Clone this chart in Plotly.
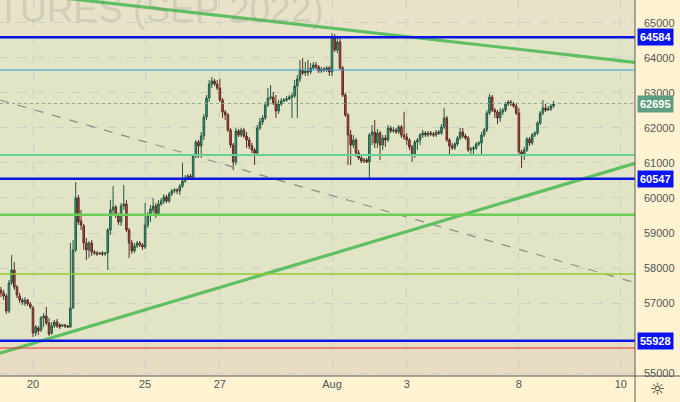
"""Si futures (Sep 2022), hourly candles with levels."""

import plotly.graph_objects as go

# hourly bars, 14 per session: Jul 19 (last 12 bars) .. Aug 8
open_ = [
    57376, 57291, 57205, 56777, 57576, 57947, 57462, 57205, 57091, 57006, 57091, 56977, 56863, 56150,
    56293, 56235, 56577, 56635, 56435, 56150, 56350, 56463, 56378, 56350, 56378, 56350, 56321, 56863,
    58517, 60000, 59344, 59202, 58717, 58517, 58717, 58460, 58432, 58403, 58432, 58403, 58432, 59088,
    59658, 59744, 59515, 59316, 59772, 59829, 59088, 58717, 58489, 58631, 58717, 58660, 58603, 59230,
    59515, 59658, 59772, 59544, 59829, 59914, 60029, 59914, 60114, 60200, 60228, 60200, 60342, 60485,
    60571, 60628, 60599, 61198, 61597, 61483, 61768, 62310, 62852, 63251, 63337, 63251, 63137, 62795,
    62453, 62367, 61939, 61512, 61027, 61911, 61797, 61939, 61768, 61654, 61483, 61369, 61283, 61997,
    62168, 62282, 62652, 62852, 62881, 62710, 62481, 62681, 62767, 62795, 62824, 62881, 62909, 63194,
    63394, 63651, 63565, 63622, 63594, 63708, 63793, 63736, 63622, 63679, 63651, 63708, 63594, 64592,
    64221, 64449, 63708, 62938, 62367, 61797, 61512, 61654, 61283, 61141, 61055, 61084, 61027, 61797,
    61882, 61569, 61854, 61512, 61711, 61654, 61997, 61911, 61939, 61882, 62025, 61797, 61740, 61654,
    61455, 61226, 61597, 61654, 61797, 61854, 61797, 61854, 61825, 61797, 61882, 61854, 62025, 62282,
    61654, 61483, 61426, 61540, 61711, 61882, 61768, 61711, 61369, 61398, 61426, 61540, 61569, 61797,
    61939, 62424, 62881, 62510, 62453, 62282, 62453, 62510, 62681, 62738, 62681, 62624, 62424, 61312,
    61255, 61369, 61683, 61569, 61797, 61854, 62139, 62424, 62567, 62510, 62538, 62624,
]
high = [
    57462, 57376, 57262, 57661, 58374, 58175, 57519, 57291, 57148, 57177, 57120, 57034, 56920, 56378,
    56350, 56635, 56720, 56891, 56577, 56463, 56520, 56549, 56435, 56407, 56407, 56378, 58717, 58802,
    60456, 60086, 59658, 59259, 58859, 58774, 58802, 58517, 58489, 58460, 58489, 58460, 59145, 59943,
    60342, 59801, 59572, 59857, 60371, 59943, 59145, 58802, 58717, 58774, 58774, 58717, 59857, 59601,
    59801, 60000, 59857, 59943, 60000, 60114, 60086, 60171, 60257, 60285, 60285, 60399, 60998, 60656,
    60685, 60685, 61255, 61654, 61654, 61882, 62396, 62938, 63365, 63451, 63394, 63365, 63394, 62852,
    62510, 62424, 61997, 61569, 61997, 61968, 61997, 61997, 61882, 61740, 61569, 61426, 62082, 62282,
    62367, 62738, 63137, 63223, 63023, 62938, 62795, 62852, 62852, 62909, 62938, 62995, 63365, 63508,
    63936, 63993, 63879, 63936, 63850, 63879, 63879, 63793, 63736, 63736, 63765, 63765, 64706, 64677,
    64620, 64563, 63765, 62995, 62424, 61939, 61797, 61711, 61369, 61198, 61141, 61141, 61854, 62082,
    62225, 61968, 61911, 61797, 61797, 62082, 62054, 62025, 61997, 62082, 62082, 62453, 61854, 61711,
    61512, 61654, 61711, 61854, 61939, 61911, 61911, 61911, 61882, 61939, 61939, 62111, 62567, 62339,
    61711, 61569, 61597, 61768, 61997, 61997, 61825, 61768, 61455, 61483, 61597, 61626, 61882, 61997,
    62510, 62966, 62938, 62567, 62510, 62567, 62567, 62738, 62795, 62795, 62738, 62710, 62567, 61369,
    61455, 61740, 61740, 61854, 61911, 62196, 62481, 62795, 62681, 62624, 62681, 62767,
]
low = [
    57177, 57091, 56692, 56720, 57519, 57376, 57148, 57006, 56948, 56920, 56920, 56834, 56036, 56065,
    56093, 56178, 56321, 56378, 56065, 56093, 56293, 56293, 56264, 56321, 56293, 56293, 56293, 56834,
    58460, 59230, 59088, 58517, 58232, 58289, 58346, 58374, 58346, 58374, 58346, 58346, 57947, 58945,
    59515, 59430, 59230, 59202, 59658, 59031, 58289, 58403, 58432, 58574, 58603, 58517, 58546, 59145,
    59316, 59572, 59430, 59487, 59772, 59829, 59857, 59857, 60057, 60143, 60114, 60086, 60285, 60428,
    60513, 60542, 60542, 61141, 61141, 61141, 61654, 62225, 62738, 63137, 63194, 63080, 62738, 62282,
    62225, 61882, 61426, 60799, 60941, 61740, 61740, 61711, 61426, 61398, 61283, 60941, 61198, 61939,
    62082, 62225, 62595, 62795, 62652, 62282, 62396, 62624, 62738, 62738, 62795, 62282, 62852, 62282,
    63308, 63508, 63480, 63480, 63537, 63651, 63679, 63565, 63565, 63594, 63594, 63480, 63480, 64164,
    64135, 63651, 62881, 62310, 60941, 60941, 61426, 61169, 61084, 60998, 60998, 60998, 60571, 61512,
    61426, 61426, 61084, 61369, 61455, 61597, 61854, 61854, 61825, 61825, 61711, 61654, 61512, 61369,
    61027, 61141, 61369, 61512, 61711, 61740, 61740, 61768, 61740, 61740, 61797, 61797, 61968, 61597,
    61226, 61369, 61369, 61483, 61654, 61711, 61654, 61312, 61226, 61226, 61369, 61483, 61226, 61740,
    61882, 62367, 62453, 62282, 62111, 62168, 62367, 62453, 62624, 62624, 62567, 62367, 61226, 60856,
    61084, 61312, 61483, 61512, 61740, 61797, 62082, 62367, 62453, 62481, 62481, 62567,
]
close = [
    57291, 57205, 56777, 57576, 57947, 57462, 57233, 57091, 57034, 57091, 56977, 56891, 56150, 56321,
    56207, 56577, 56635, 56435, 56122, 56350, 56463, 56350, 56321, 56378, 56350, 56321, 56863, 58517,
    60000, 59316, 59230, 58717, 58517, 58717, 58460, 58432, 58403, 58432, 58403, 58432, 59088, 59658,
    59744, 59515, 59316, 59772, 59829, 59088, 58717, 58489, 58631, 58717, 58660, 58603, 59230, 59515,
    59687, 59772, 59544, 59829, 59914, 60029, 59914, 60114, 60200, 60228, 60200, 60342, 60485, 60571,
    60628, 60599, 61198, 61597, 61483, 61768, 62310, 62852, 63251, 63337, 63251, 63137, 62795, 62453,
    62367, 61939, 61512, 61027, 61911, 61797, 61939, 61768, 61654, 61483, 61369, 61283, 61997, 62168,
    62282, 62652, 62852, 62881, 62710, 62481, 62681, 62767, 62795, 62824, 62881, 62909, 63194, 63394,
    63651, 63565, 63622, 63594, 63708, 63793, 63736, 63622, 63679, 63651, 63708, 63594, 64592, 64221,
    64449, 63708, 62938, 62367, 61797, 61512, 61654, 61283, 61141, 61055, 61084, 61027, 61797, 61882,
    61569, 61854, 61512, 61711, 61654, 61997, 61911, 61939, 61882, 62025, 61797, 61740, 61654, 61455,
    61226, 61597, 61654, 61797, 61854, 61797, 61854, 61825, 61797, 61882, 61854, 62025, 62282, 61654,
    61483, 61426, 61540, 61711, 61882, 61768, 61711, 61369, 61398, 61426, 61540, 61569, 61797, 61939,
    62424, 62881, 62510, 62453, 62282, 62453, 62510, 62681, 62738, 62681, 62624, 62424, 61312, 61255,
    61369, 61683, 61569, 61797, 61854, 62139, 62424, 62567, 62510, 62538, 62624, 62695,
]

# x-axis labels (bar index of session start)
tick_pos = [12, 54, 82, 124, 152, 194, 232.2]
tick_text = ["20", "25", "27", "Aug", "3", "8", "10"]
price_ticks = [55000, 57000, 58000, 59000, 60000, 61000, 62000, 63000, 64000, 65000]

# key levels
level_blue = [64584, 60547, 55928]
level_lightblue = 63651
level_mint = 61226
level_green = 59524
level_lime = 57832
level_red = 55722
last_price = 62695

# trend lines (bar index, price)
trend_down_x = [20, 237.5]
trend_down_y = [65733, 63870]
trend_up_x = [-0.36, 237.5]
trend_up_y = [55571, 60990]
trend_dash_x = [-0.36, 237.5]
trend_dash_y = [62795, 57584]

X_RANGE = [-0.36, 237.5]
Y_RANGE = [54923, 65647]
FONT = "Liberation Sans, Arial, sans-serif"

bars = list(range(len(close)))

fig = go.Figure()

fig.add_trace(go.Scatter(x=trend_dash_x, y=trend_dash_y, mode="lines",
                         line=dict(color="#8c8c84", width=1.2, dash="dash"),
                         hoverinfo="skip", showlegend=False))

fig.add_trace(go.Candlestick(
    x=bars, open=open_, high=high, low=low, close=close,
    increasing=dict(line=dict(color="#235a43", width=1), fillcolor="#3f9d76"),
    decreasing=dict(line=dict(color="#5e2a24", width=1), fillcolor="#c2473b"),
    whiskerwidth=0, showlegend=False,
))

for tx, ty in [(trend_down_x, trend_down_y), (trend_up_x, trend_up_y)]:
    fig.add_trace(go.Scatter(x=tx, y=ty, mode="lines",
                             line=dict(color="#5fbf62", width=3.2),
                             hoverinfo="skip", showlegend=False))

# shaded zones
fig.add_shape(type="rect", xref="paper", x0=0, x1=1, y0=level_blue[0], y1=Y_RANGE[1],
              fillcolor="#e8e3c8", line_width=0, layer="below")
fig.add_shape(type="rect", xref="paper", x0=0, x1=1, y0=Y_RANGE[0], y1=level_blue[2],
              fillcolor="#e8ddc3", line_width=0, layer="below")


def hline(y, color, width, dash="solid"):
    fig.add_shape(type="line", xref="paper", x0=0, x1=1, y0=y, y1=y,
                  line=dict(color=color, width=width, dash=dash))


hline(last_price, "#8aa797", 1.2, "dot")
hline(level_lightblue, "#3a9be0", 1.2)
hline(level_mint, "#66d096", 1.8)
hline(level_green, "#6ccd58", 2.6)
hline(level_lime, "#94cc2c", 1.6)
hline(level_red, "#e2342f", 1.2)
for lv in level_blue:
    hline(lv, "#0a14e6", 2.6)

# axis frame lines
fig.add_shape(type="line", xref="paper", yref="paper", x0=1, x1=1, y0=-0.07, y1=1,
              line=dict(color="#5a5a5a", width=1))
fig.add_shape(type="line", xref="paper", yref="paper", x0=0, x1=1.08, y0=0, y1=0,
              line=dict(color="#5a5a5a", width=1))

# price tags on the axis
for lv in level_blue:
    fig.add_annotation(x=1, xref="paper", xanchor="left", xshift=2, y=lv, yref="y",
                       text=f"<b>{lv}</b>", showarrow=False, bgcolor="#0a14f0",
                       font=dict(family=FONT, size=11, color="white"), borderpad=2)
fig.add_annotation(x=1, xref="paper", xanchor="left", xshift=2, y=last_price, yref="y",
                   text=f"<b>{last_price}</b>", showarrow=False, bgcolor="#5d9f80",
                   font=dict(family=FONT, size=11, color="white"), borderpad=2)

# watermark
fig.add_annotation(x=326 / 635, xref="paper", xanchor="right", y=(376 - 32) / 376, yref="paper",
                   yanchor="bottom", text="FUTURES (SEP 2022)", showarrow=False,
                   font=dict(family=FONT, size=37, color="rgba(130,130,120,0.22)"))

# settings icon
fig.add_annotation(x=1, xref="paper", xanchor="center", xshift=22, y=-13 / 376, yref="paper",
                   yanchor="middle", text="☼", showarrow=False,
                   font=dict(family="DejaVu Sans", size=17, color="#333"))

fig.update_layout(
    width=680, height=402,
    margin=dict(l=0, r=45, t=0, b=26),
    paper_bgcolor="#fff3d2",
    plot_bgcolor="#e2e4c6",
    showlegend=False,
    boxgap=0.15,
    font=dict(family=FONT, size=11, color="#555"),
    xaxis=dict(range=X_RANGE, tickvals=tick_pos, ticktext=tick_text,
               showgrid=True, gridcolor="#c9cfc9", griddash="dash", gridwidth=1,
               zeroline=False, showline=False, ticks="", rangeslider=dict(visible=False),
               tickfont=dict(size=11, color="#555")),
    yaxis=dict(range=Y_RANGE, side="right", tickvals=price_ticks,
               ticktext=[str(v) for v in price_ticks],
               showgrid=True, gridcolor="#c9cfc9", griddash="dash", gridwidth=1,
               zeroline=False, showline=False, ticks="", ticklabelstandoff=8,
               tickfont=dict(size=11, color="#555")),
)

fig.write_html("out.html", config={"displayModeBar": False},
               post_script="document.body.style.margin='0';")
